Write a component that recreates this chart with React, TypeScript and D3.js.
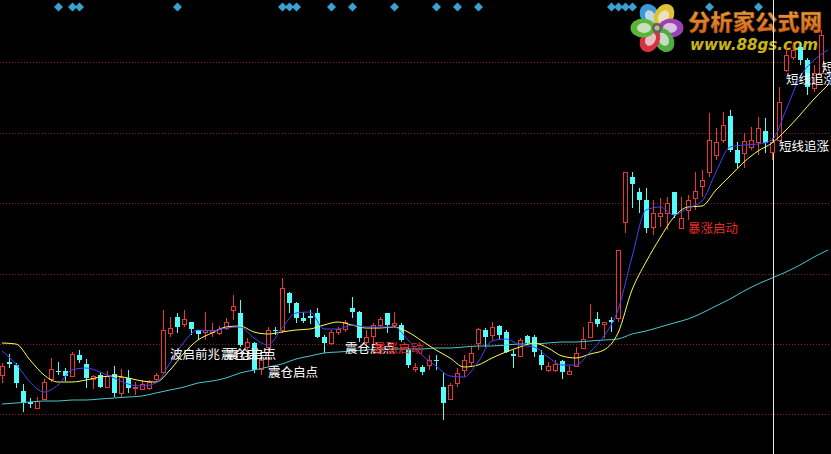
import React from 'react';
import * as d3 from 'd3';

const W = 831;
const H = 454;

// Daily bars: open / high / low / close
const opens = [12.5,13.8,13.5,10.9,9.8,9.2,10.1,12.1,12.9,12.9, 12.4,14.5,13.6,12.1,12.5,11.3,12.6,10.7,12.2,11.2, 11.1,11.2,12.1,12.8,16.7,18.3,17.6,17.8,17.0,16.8, 16.8,16.7,17.2,19.0,18.7,15.3,15.7,13.1,15.3,17.0, 17.0,20.7,19.7,18.2,18.4,18.7,16.3,15.7,16.8,17.1, 19.2,18.8,15.8,16.4,17.5,18.7,17.5,17.5,15.0,13.1, 13.3,13.5,14.0,11.3,10.1,11.7,13.0,13.8,15.7,17.0, 16.5,17.4,16.8,14.6,14.4,16.4,16.3,14.5,13.0,13.0, 13.9,12.6,13.4,15.2,16.3,18.1,17.6,18.0,18.2,27.8, 32.3,30.8,30.0,27.3,28.4,28.7,30.8,27.2,29.0,30.2, 31.4,32.8,34.5,36.0,38.4,35.0,34.7,35.3,35.8,36.9, 34.8,36.0,43.0,44.3,45.3,44.0,41.2,42.7];
const highs = [13.7,14.6,13.7,11.6,10.2,10.3,12.1,14.2,13.8,13.2, 14.8,15.0,14.1,12.5,12.8,12.9,13.4,13.1,13.0,11.8, 12.0,12.0,12.7,19.0,18.3,18.7,19.0,17.8,17.0,18.8, 17.7,17.4,18.2,20.5,20.0,16.2,15.8,14.5,17.3,17.3, 22.2,20.8,19.8,18.8,19.0,19.2,16.5,17.0,17.3,18.0, 20.3,18.9,17.0,17.7,18.3,18.7,18.8,17.7,15.2,13.7, 13.5,14.5,14.5,12.7,11.7,13.2,14.5,15.3,17.2,17.2, 17.8,17.5,17.0,15.0,16.2,16.5,16.5,15.0,13.8,14.0, 14.0,13.4,15.3,17.3,19.6,18.8,17.8,18.3,25.0,32.8, 32.8,31.2,31.2,30.0,30.2,30.3,30.8,30.3,30.5,32.8, 33.0,38.7,37.2,38.8,39.0,35.8,36.7,37.3,38.3,38.2, 36.2,41.3,45.5,45.8,45.8,44.2,43.5,47.0];
const lows = [11.7,13.2,11.2,8.8,9.2,9.2,10.0,11.8,12.5,11.9, 12.4,13.7,11.2,11.1,11.2,11.2,10.3,10.3,10.7,10.5, 11.0,11.0,11.9,12.7,16.3,16.7,17.3,16.5,16.0,16.0, 16.3,16.5,17.0,18.0,15.3,14.3,12.7,12.5,13.3,16.5, 16.7,18.7,17.7,17.7,17.6,16.2,14.7,15.5,16.5,16.8, 18.2,15.8,15.3,15.3,17.3,16.7,17.2,15.8,13.2,12.8, 12.5,13.0,13.0,8.0,10.0,11.3,12.3,13.3,15.0,15.3, 16.0,16.0,14.7,13.2,14.3,15.5,14.3,13.0,12.8,12.8, 12.1,12.5,13.3,15.1,16.3,17.3,16.2,16.8,17.8,26.7, 29.2,28.7,26.7,26.5,27.3,27.0,28.2,27.2,28.0,29.0, 30.3,32.3,34.0,35.7,34.8,33.2,33.2,35.0,34.5,34.7, 34.0,35.8,42.8,44.0,43.5,40.5,40.8,42.5];
const closes = [13.4,13.6,11.7,9.7,9.6,9.9,11.8,13.1,12.8,12.4, 14.6,14.0,12.2,12.4,11.3,12.4,10.7,12.3,11.2,11.3, 11.6,11.8,12.5,17.0,17.2,17.3,18.1,17.1,16.6,17.0, 17.0,17.1,17.8,19.4,15.5,15.8,13.0,14.0,17.0,16.9, 21.2,19.7,18.2,17.9,18.2,16.3,15.7,16.8,17.1,17.8, 18.8,16.2,16.3,17.5,18.1,17.5,17.7,16.0,13.5,13.3, 12.8,14.0,13.9,9.7,11.5,12.7,14.0,14.7,17.1,16.3, 17.3,16.5,14.8,14.4,16.0,15.7,14.8,13.5,13.4,13.6, 12.8,12.9,14.7,16.1,17.8,17.6,17.8,17.8,25.0,32.8, 31.6,30.0,27.2,28.7,28.7,29.7,28.5,28.2,30.0,30.9, 32.0,36.0,35.8,37.5,35.0,33.7,35.9,36.0,37.2,35.7, 35.8,39.8,44.5,45.0,44.0,41.3,42.7,46.5];

// Moving averages, one value every MA_STEP bars starting at bar 0
const MA_STEP = 2;
const maShort = [14.9,13.6,11.8,10.8,11.5,13.0,13.2,12.8,12.2,11.6, 11.4,11.7,13.7,15.8,17.0,16.9,17.2,17.3,16.2,15.5, 17.2,18.7,18.8,17.1,17.1,17.5,17.3,17.3,17.3,16.0, 14.5,13.4,12.4,12.3,13.8,15.9,16.1,15.5,15.3,14.3, 13.5,13.5,14.8,16.4,19.0,24.3,29.0,29.3,28.5,29.2, 29.9,32.8,35.3,35.5,35.6,36.0,39.0,42.3,44.0,45.0];
const maMid = [15.7,15.6,14.0,12.5,11.8,11.8,12.0,12.3,12.4,12.2, 11.9,11.8,13.0,14.7,16.0,16.7,17.3,17.4,16.8,16.6, 16.8,17.0,17.1,17.5,17.8,17.5,17.2,17.2,17.3,16.8, 15.9,15.0,14.2,13.3,13.5,14.2,14.8,15.3,15.7,15.2, 14.4,14.2,14.6,15.0,16.7,21.0,23.8,26.2,28.3,29.3, 29.4,31.0,32.4,33.8,34.9,35.7,37.0,38.5,40.1,41.5];
const maLong = [9.6,9.7,9.8,9.9,9.9,10.0,10.0,10.1,10.2,10.3, 10.4,10.7,11.0,11.3,11.7,11.9,12.2,12.7,13.0,13.3, 13.6,14.1,14.4,14.7,14.8,14.9,15.0,15.1,15.1,15.1, 15.1,15.2,15.2,15.3,15.4,15.4,15.5,15.6,15.6,15.7, 15.8,15.8,15.9,16.0,16.1,16.6,16.9,17.3,17.7,18.1, 18.7,19.4,20.1,20.9,21.6,22.2,22.8,23.5,24.3,25.0];

// Horizontal reference levels
const gridLevels = [8.6, 15.6, 22.6, 29.7, 36.7, 43.8];

// Bars flagged by the signal row at the top
const signalBars = [8, 10, 11, 25, 40, 41, 42, 47, 50, 56, 62, 65, 68, 87, 88, 89, 90, 101, 108];

// Text signals: bar position, baseline price, text, colour
const signalBarPos = [24, 31.3, 32, 38, 49, 53, 98, 111, 112, 117.1];
const signalPrice = [14.1, 14.1, 14.1, 12.3, 14.7, 14.7, 26.7, 34.9, 41.6, 42.8];
const signalText = ['波启前兆', '震仓启点', '震仓启点', '震仓启点', '震仓启点', '暴涨启动', '暴涨启动', '短线追涨', '短线追涨', '短线追涨'];
const signalColor = ['#ffffff', '#ffffff', '#ffffff', '#ffffff', '#ffffff', '#e82828', '#e82828', '#ffffff', '#ffffff', '#ffffff'];

const cursorBar = 110.15;

const UP = '#ea3636';
const DOWN = '#54fcfc';

const xScale = d3.scaleLinear().domain([0, 118]).range([2, 828]);
const yScale = d3.scaleLinear().domain([4.6, 50]).range([H, 0]);

function maPath(values: number[]) {
  const line = d3
    .line<number>()
    .x((_, k) => xScale(k * MA_STEP))
    .y((v) => yScale(v))
    .curve(d3.curveMonotoneX);
  return line(values) || '';
}

const petalColors = ['#3fa6e6', '#f2d13a', '#a848c8', '#58b848', '#e23848', '#66c23a'];
const petalAngles = [-120, -60, 0, 60, 120, 180];

function Logo() {
  const cx = 657;
  const cy = 28;
  return (
    <g opacity={0.93}>
      <defs>
        <linearGradient id="logoText" x1="0" y1="0" x2="0" y2="1">
          <stop offset="0%" stopColor="#f8b848" />
          <stop offset="100%" stopColor="#e2661a" />
        </linearGradient>
      </defs>
      {petalAngles.map((a, k) => {
        const r = (a * Math.PI) / 180;
        const px = cx + Math.cos(r) * 14;
        const py = cy + Math.sin(r) * 14;
        return (
          <g key={k} transform={`translate(${px},${py}) rotate(${a})`}>
            <ellipse rx={12.5} ry={9.5} fill={petalColors[k]} />
            <ellipse rx={7} ry={5} cx={-1} fill="#ffffff" opacity={0.75} />
          </g>
        );
      })}
      <circle cx={cx} cy={cy} r={5} fill="#6a6a5a" />
      <circle cx={cx} cy={cy} r={2.5} fill="#c8c8b0" />
      <text
        x={688}
        y={30}
        fontFamily="'Noto Sans CJK SC', sans-serif"
        fontWeight={900}
        fontSize={22}
        fill="url(#logoText)"
        stroke="#8a3a0a"
        strokeWidth={0.4}
        textLength={134}
        lengthAdjust="spacingAndGlyphs"
      >
        分析家公式网
      </text>
      <text
        x={690}
        y={50}
        fontFamily="'DejaVu Sans', sans-serif"
        fontWeight={700}
        fontStyle="italic"
        fontSize={16}
        fill="#d9c21c"
        textLength={128}
        lengthAdjust="spacingAndGlyphs"
      >
        www.88gs.com
      </text>
    </g>
  );
}

export default function App() {
  const bars = opens.map((o, i) => {
    const c = closes[i];
    const n = Math.round(xScale(i));
    const cx = n + 0.5;
    const yTop = Math.round(yScale(Math.max(o, c)));
    const yBot = Math.round(yScale(Math.min(o, c)));
    const yH = Math.round(yScale(highs[i]));
    const yL = Math.round(yScale(lows[i]));
    if (c > o) {
      return (
        <g key={i} stroke={UP} strokeWidth={1} fill="#000">
          {yH < yTop && <line x1={cx} x2={cx} y1={yH} y2={yTop} />}
          {yL > yBot && <line x1={cx} x2={cx} y1={yBot} y2={yL} />}
          <rect x={cx - 2} y={yTop + 0.5} width={4} height={Math.max(yBot - yTop, 0)} />
        </g>
      );
    }
    return (
      <g key={i}>
        <line x1={cx} x2={cx} y1={yH} y2={yL} stroke={DOWN} strokeWidth={1} />
        <rect x={n - 2} y={yTop} width={5} height={Math.max(yBot - yTop, 1)} fill={DOWN} />
      </g>
    );
  });

  const cursorX = Math.round(xScale(cursorBar)) + 0.5;

  return (
    <svg
      width={W}
      height={H}
      viewBox={`0 0 ${W} ${H}`}
      style={{ position: 'absolute', left: 0, top: 0, display: 'block' }}
    >
      <rect x={0} y={0} width={W} height={H} fill="#000" />

      {gridLevels.map((g, k) => {
        const y = Math.round(yScale(g)) + 0.5;
        return <line key={k} x1={0} x2={W} y1={y} y2={y} stroke="#8a1c1c" strokeDasharray="1,2" />;
      })}

      {signalBars.map((b, k) => (
        <path
          key={k}
          transform={`translate(${Math.round(xScale(b)) + 0.5},7)`}
          d="M0,-4.5L4.5,0L0,4.5L-4.5,0Z"
          fill="#3aa2d2"
        />
      ))}

      <Logo />

      <line x1={cursorX} x2={cursorX} y1={0} y2={H} stroke="#e8e8e8" strokeWidth={1} />

      {bars}

      <path d={maPath(maLong)} fill="none" stroke="#48c8cc" strokeWidth={1} />
      <path d={maPath(maMid)} fill="none" stroke="#ffff50" strokeWidth={1} />
      <path d={maPath(maShort)} fill="none" stroke="#4444ff" strokeWidth={1} />

      {signalText.map((t, k) => (
        <text
          key={k}
          x={xScale(signalBarPos[k])}
          y={yScale(signalPrice[k])}
          fontFamily="'Noto Sans CJK SC', sans-serif"
          fontSize={12.5}
          fill={signalColor[k]}
        >
          {t}
        </text>
      ))}
    </svg>
  );
}
